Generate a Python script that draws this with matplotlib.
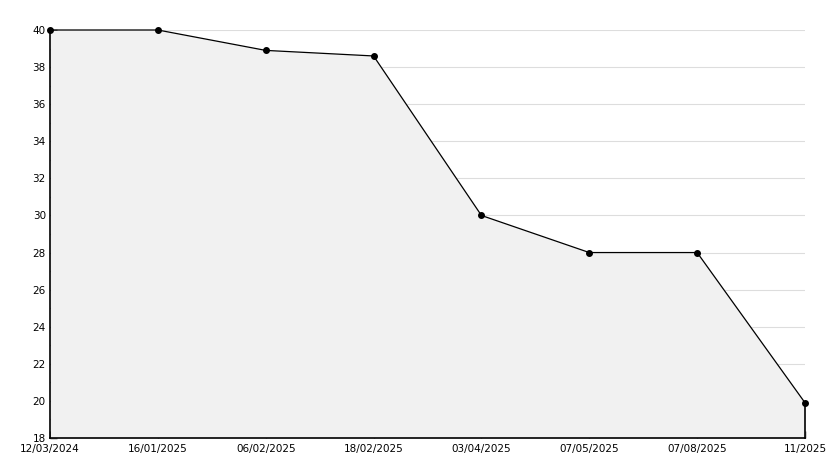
import matplotlib
matplotlib.use("Agg")
import matplotlib.pyplot as plt
from matplotlib.ticker import MultipleLocator

labels = ["12/03/2024", "16/01/2025", "06/02/2025", "18/02/2025",
          "03/04/2025", "07/05/2025", "07/08/2025", "11/2025"]
values = [40, 40, 38.9, 38.6, 30, 28, 28, 19.9]

fig = plt.figure(figsize=(8.34, 4.68), dpi=100)
ax = fig.add_axes([50/834, 30/468, 755/834, 408/468])
x = list(range(len(values)))

ax.set_ylim(18, 40)
ax.set_xlim(0, len(values) - 1)
ax.yaxis.set_major_locator(MultipleLocator(2))
ax.yaxis.set_minor_locator(MultipleLocator(1))
ax.grid(axis="y", which="major", color="#dddddd", linewidth=0.8, zorder=0)
ax.set_axisbelow(True)

ax.fill_between(x, values, 18, color="#f1f1f1", zorder=1, linewidth=0)
ax.plot([x[-1], x[-1]], [18, values[-1]], color="black", linewidth=1.2,
        zorder=2, clip_on=False)
ax.plot(x, values, color="black", linewidth=0.9, marker="o", markersize=4,
        zorder=3, clip_on=False)

ax.set_xticks(x)
ax.set_xticklabels(labels)
for s in ["top", "right"]:
    ax.spines[s].set_visible(False)
for s in ["left", "bottom"]:
    ax.spines[s].set_linewidth(1.2)
ax.tick_params(axis="both", which="major", direction="in", length=5, width=1,
               labelsize=7.5, pad=3)
ax.tick_params(axis="y", which="minor", direction="in", length=3, width=1)
ax.tick_params(axis="x", pad=4)

fig.savefig("out.png", dpi=100, facecolor="white")
